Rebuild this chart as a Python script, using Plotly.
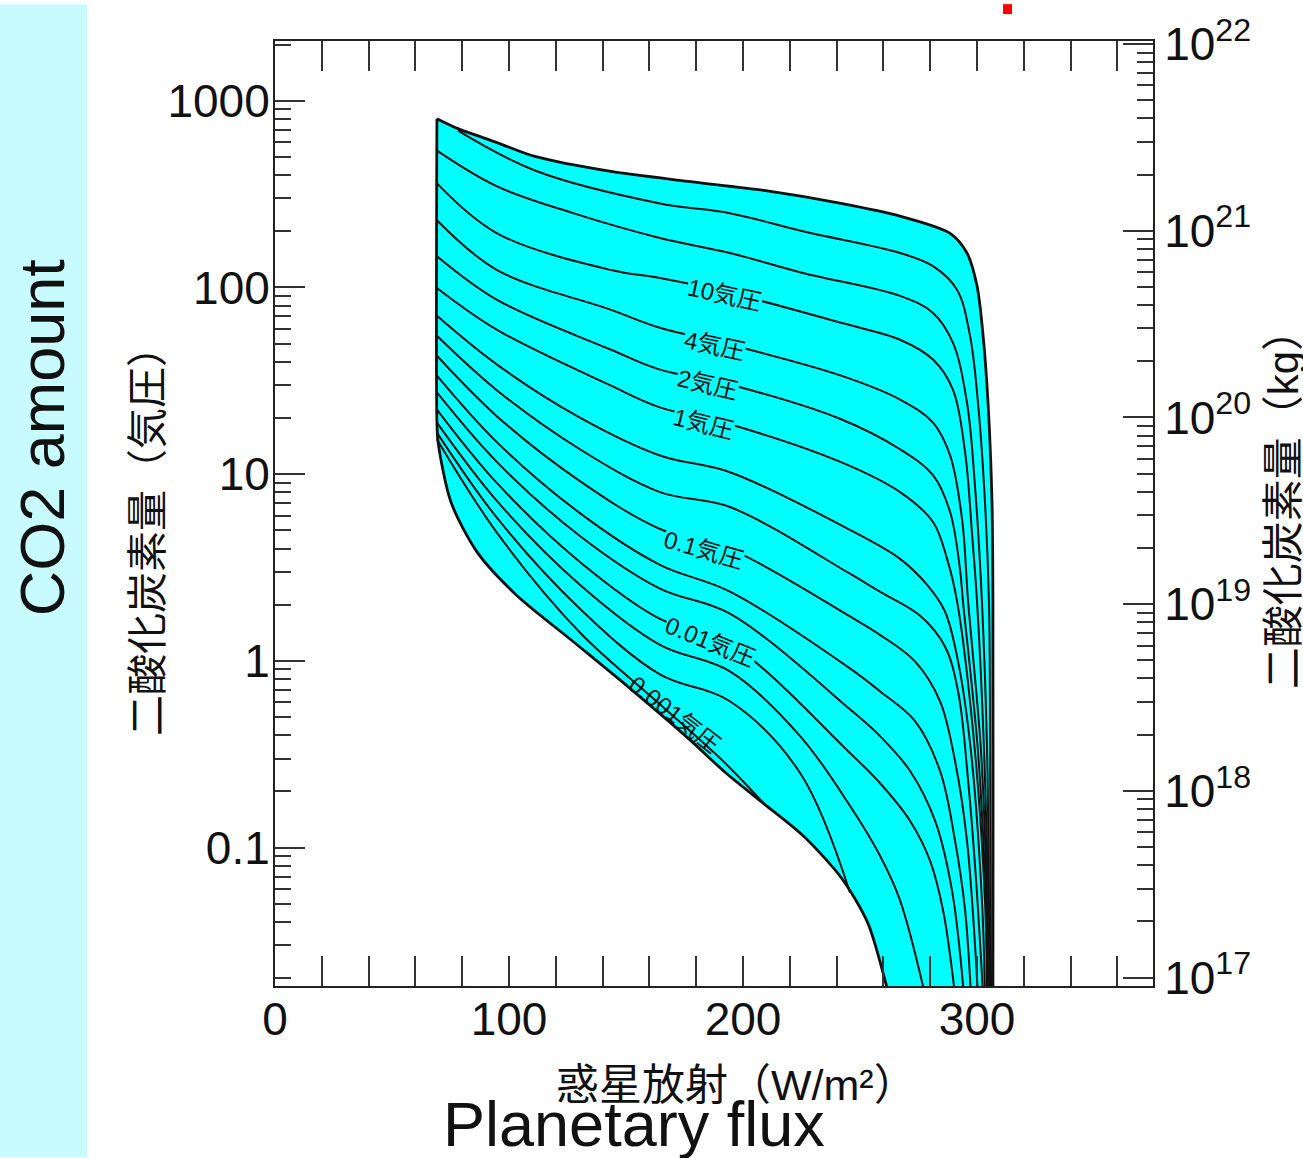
import math
import plotly.graph_objects as go

# ---------------- data (flux in W/m2, CO2 amount in atm) ----------------
# outer boundary of the solution region (the last point of each edge lies below the visible range)
flux_top_edge = [69.2, 78.2, 94.9, 111.1, 143.6, 176.5, 209.0, 241.9, 267.1, 288.5, 295.7, 300.0, 302.6, 304.7, 306.4, 306.8, 306.8, 306.8]
co2_top_edge = [802, 709, 597, 503, 418, 370, 331, 282, 241, 195, 153, 102, 55.1, 24.2, 7.09, 2.076, 0.01625, 0.00826]

flux_low_edge = [69.2, 69.2, 69.7, 75.2, 86.3, 103.0, 127.4, 151.7, 176.5, 192.7, 209.0, 225.6, 241.9, 253.4, 262.4, 269.2]
co2_low_edge = [802, 18.9, 14.8, 7.09, 3.837, 2.263, 1.27, 0.713, 0.386, 0.251, 0.1716, 0.116, 0.0692, 0.0393, 0.01625, 0.00826]

# contour lines of surface pressure
flux_40atm = [78.2, 111.1, 164.5, 194.4, 225.6, 267.1, 281.2, 291.5, 297.0, 300.4, 303.4, 305.1, 305.6, 305.8, 306.0]
co2_40atm = [692, 423, 282, 250, 200, 153, 130, 97, 55.1, 24.2, 7.09, 2.076, 0.329, 0.0522, 0.01625]

flux_20atm = [69.2, 94.9, 127.4, 164.5, 194.4, 225.6, 267.1, 281.2, 289.7, 295.7, 299.1, 302.1, 304.3, 305.1, 305.6]
co2_20atm = [541, 348, 250, 184, 153, 119.5, 90.1, 73.1, 50.6, 24.2, 8.74, 2.076, 0.329, 0.0522, 0.01625]

flux_10atm = [69.2, 94.9, 143.6, 164.5, 194.4, 241.9, 267.1, 281.2, 289.7, 294.9, 297.9, 300.0, 303.0, 304.7, 305.3]
co2_10atm = [361, 195, 124, 112.3, 93.5, 64.7, 52.5, 41.1, 28.4, 13.1, 4.73, 2.076, 0.329, 0.0522, 0.01625]

flux_4atm = [69.2, 94.9, 143.6, 164.5, 194.4, 241.9, 267.1, 281.2, 288.5, 293.6, 296.2, 301.7, 304.3, 305.1]
co2_4atm = [229, 124, 75.9, 60.8, 49.4, 33.7, 25.1, 18.9, 12.6, 5.75, 2.076, 0.329, 0.0522, 0.01625]

flux_2atm = [69.2, 94.9, 143.6, 164.5, 194.4, 241.9, 267.1, 281.2, 288.5, 292.7, 294.0, 300.4, 303.8, 304.7]
co2_2atm = [147, 85.8, 46.4, 36.3, 30.2, 19.7, 13.6, 9.88, 6.27, 3.11, 2.076, 0.329, 0.0522, 0.01625]

flux_1atm = [69.2, 94.9, 143.6, 164.5, 194.4, 241.9, 267.1, 281.2, 287.2, 291.5, 299.1, 303.4, 304.3]
co2_1atm = [99.4, 59.3, 29.8, 22.8, 18.5, 11.6, 8.02, 5.55, 3.52, 2.076, 0.329, 0.0522, 0.01625]

flux_04atm = [69.2, 94.9, 130.3, 164.5, 194.4, 245.7, 267.1, 278.6, 286.3, 291.9, 297.4, 302.1, 303.4]
co2_04atm = [70.5, 38.6, 20.1, 12.6, 10.25, 5.03, 3.52, 2.56, 1.84, 0.994, 0.329, 0.0522, 0.01625]

flux_02atm = [69.2, 94.9, 130.3, 164.5, 194.4, 245.7, 258.5, 275.6, 286.3, 291.9, 296.2, 299.6, 302.6]
co2_02atm = [55.1, 28.1, 13.6, 8.02, 6.67, 2.93, 2.35, 1.75, 1.195, 0.688, 0.228, 0.0667, 0.01625]

flux_01atm = [69.2, 94.9, 130.3, 164.5, 194.4, 245.7, 258.5, 273.5, 284.2, 290.6, 295.7, 300.4]
co2_01atm = [43.1, 20.4, 9.18, 5.09, 3.98, 1.73, 1.38, 0.994, 0.608, 0.291, 0.109, 0.01625]

flux_004atm = [69.2, 94.9, 130.3, 164.5, 194.4, 245.7, 258.5, 273.5, 284.2, 290.6, 294.9, 297.4]
co2_004atm = [33.7, 14.8, 6.19, 3.27, 2.35, 0.912, 0.688, 0.476, 0.2575, 0.109, 0.0461, 0.01625]

flux_002atm = [69.2, 94.9, 130.3, 164.5, 194.4, 245.7, 258.5, 271.4, 282.1, 289.3, 294.4]
co2_002atm = [27.4, 11.6, 4.67, 2.44, 1.79, 0.551, 0.396, 0.2575, 0.139, 0.059, 0.01625]

flux_001atm = [69.2, 94.9, 130.3, 164.5, 194.4, 245.7, 258.5, 271.4, 279.9, 285.5, 290.6]
co2_001atm = [22.2, 8.95, 3.39, 1.68, 1.24, 0.321, 0.222, 0.139, 0.0853, 0.0461, 0.01625]

flux_0004atm = [69.2, 94.9, 130.3, 164.5, 194.4, 224.4, 245.7, 258.5, 267.1, 277.8]
co2_0004atm = [18.9, 7.18, 2.56, 1.22, 0.879, 0.396, 0.1675, 0.0907, 0.0522, 0.01625]

flux_0002atm = [69.2, 94.9, 130.3, 164.5, 194.4, 224.4, 245.7]
co2_0002atm = [16.7, 5.83, 1.905, 0.847, 0.608, 0.251, 0.0575]

flux_0001atm = [69.2, 94.9, 130.3, 164.5, 192.3, 209.0]
co2_0001atm = [15.4, 4.85, 1.419, 0.586, 0.284, 0.1716]

# contour labels
label_text = ["10気圧", "4気圧", "2気圧", "1気圧", "0.1気圧", "0.01気圧", "0.001気圧"]
label_flux = [191.9, 188.0, 185.0, 182.9, 182.9, 185.9, 171.0]
label_co2 = [91.2, 48.8, 30.2, 18.7, 3.93, 1.27, 0.518]
label_angle = [12, 12, 13, 14, 16, 22, 38]
label_masks_line = [True, True, True, True, True, True, False]

# axes
x_ticks = [0, 100, 200, 300]
y_ticks = [0.1, 1, 10, 100, 1000]
y_ticktext = ["0.1", "1", "10", "100", "1000"]
kg_ticks = [1e17, 1e18, 1e19, 1e20, 1e21, 1e22]
kg_ticktext = ["10<sup>17</sup>", "10<sup>18</sup>", "10<sup>19</sup>", "10<sup>20</sup>", "10<sup>21</sup>", "10<sup>22</sup>"]
KG_PER_ATM_LOG = 18.696
Y_LOG_RANGE = [-1.741, 3.32]

LATIN = "Liberation Sans, Arial, Helvetica, sans-serif"
MIXED = "Liberation Sans, Noto Sans CJK JP, sans-serif"
CYAN = "#00ffff"
INK = "#111111"

fig = go.Figure()

# cyan filled region: start at the top-left corner, run along the upper edge,
# come back along the lower edge; the closing segment is the straight left edge
region_flux = flux_top_edge + list(reversed(flux_low_edge))[:-1]
region_co2 = co2_top_edge + list(reversed(co2_low_edge))[:-1]
fig.add_trace(go.Scatter(x=region_flux, y=region_co2, mode="lines", fill="toself",
                         fillcolor=CYAN, line=dict(width=0, shape="spline", smoothing=0.8),
                         hoverinfo="skip", showlegend=False))

contours = [
    (flux_40atm, co2_40atm), (flux_20atm, co2_20atm), (flux_10atm, co2_10atm),
    (flux_4atm, co2_4atm), (flux_2atm, co2_2atm), (flux_1atm, co2_1atm),
    (flux_04atm, co2_04atm), (flux_02atm, co2_02atm), (flux_01atm, co2_01atm),
    (flux_004atm, co2_004atm), (flux_002atm, co2_002atm), (flux_001atm, co2_001atm),
    (flux_0004atm, co2_0004atm), (flux_0002atm, co2_0002atm), (flux_0001atm, co2_0001atm),
]
for fx, cy in contours:
    fig.add_trace(go.Scatter(x=fx, y=cy, mode="lines",
                             line=dict(color=INK, width=2.0, shape="spline"),
                             hoverinfo="skip", showlegend=False))

for fx, cy in [(flux_top_edge, co2_top_edge), (flux_low_edge, co2_low_edge)]:
    fig.add_trace(go.Scatter(x=fx, y=cy, mode="lines",
                             line=dict(color=INK, width=2.8, shape="spline", smoothing=0.8),
                             hoverinfo="skip", showlegend=False))

# invisible trace to bind the right-hand axis
fig.add_trace(go.Scatter(x=[None], y=[None], yaxis="y2", mode="lines",
                         hoverinfo="skip", showlegend=False))

for t, fx, cy, ang, mask in zip(label_text, label_flux, label_co2, label_angle, label_masks_line):
    fig.add_annotation(x=fx, y=math.log10(cy), xref="x", yref="y", text=t,
                       xanchor="center", yanchor="middle",
                       showarrow=False, textangle=ang,
                       bgcolor=CYAN if mask else "rgba(0,0,0,0)", borderpad=0,
                       font=dict(family=MIXED, size=24, color=INK))

x_minor = [v for v in range(20, 380, 20) if v % 100 != 0]
y_minor = [m * 10.0 ** e for e in range(-2, 4) for m in range(2, 10)]
kg_minor = [m * 10.0 ** e for e in range(16, 22) for m in range(2, 10)]

axis_common = dict(ticks="inside", tickwidth=2, tickcolor="#333", ticklen=30,
                   showline=True, linecolor="#222", linewidth=2, showgrid=False,
                   zeroline=False, tickfont=dict(family=LATIN, size=46, color="#111"))

fig.update_layout(
    width=1303, height=1158,
    margin=dict(l=275, r=150, t=37, b=172),
    paper_bgcolor="white", plot_bgcolor="white",
    showlegend=False,
    xaxis=dict(range=[0, 375.2], tickmode="array", tickvals=x_ticks, mirror="allticks",
               minor=dict(tickmode="array", tickvals=x_minor, ticks="inside", ticklen=16,
                          tickwidth=2, tickcolor="#333"),
               ticklabelstandoff=-8, **axis_common),
    yaxis=dict(type="log", range=Y_LOG_RANGE, tickmode="array", tickvals=y_ticks,
               ticktext=y_ticktext, mirror=False,
               minor=dict(tickmode="array", tickvals=y_minor, ticks="inside", ticklen=16,
                          tickwidth=2, tickcolor="#333"),
               ticklabelstandoff=-6, **axis_common),
    yaxis2=dict(type="log", overlaying="y", side="right", anchor="x",
                range=[Y_LOG_RANGE[0] + KG_PER_ATM_LOG, Y_LOG_RANGE[1] + KG_PER_ATM_LOG],
                tickmode="array", tickvals=kg_ticks, ticktext=kg_ticktext,
                minor=dict(tickmode="array", tickvals=kg_minor, ticks="inside", ticklen=16,
                           tickwidth=2, tickcolor="#333"),
                ticklabelstandoff=0, **axis_common),
)

# light cyan strip on the left and small red mark on top
fig.add_shape(type="rect", xref="paper", yref="paper", x0=-0.3132, x1=-0.2141,
              y0=-0.1812, y1=1.039, fillcolor="#c8fbfd", line=dict(width=0), layer="below")
fig.add_shape(type="rect", xref="paper", yref="paper", x0=0.8292, x1=0.8394,
              y0=1.0285, y1=1.039, fillcolor="#ff0000", line=dict(width=0))

# titles
def paper_note(text, x, y, size, family, angle=0):
    fig.add_annotation(xref="paper", yref="paper", x=x, y=y, text=text, textangle=angle,
                       xanchor="center", yanchor="middle", showarrow=False,
                       font=dict(family=family, size=size, color="#111"))

paper_note("二酸化炭素量（気圧）", -0.1446, 0.4816, 41, MIXED, -90)
paper_note("二酸化炭素量（kg）", 1.148, 0.515, 42, MIXED, -90)
paper_note("惑星放射（W/m²）", 0.526, -0.1043, 43, MIXED)
paper_note("CO2 amount", -0.2654, 0.5806, 63, LATIN, -90)
paper_note("Planetary flux", 0.4089, -0.1465, 63, LATIN)

fig.write_html("out.html", config={"displayModeBar": False},
               post_script="document.body.style.margin='0';document.body.style.overflow='hidden';")
